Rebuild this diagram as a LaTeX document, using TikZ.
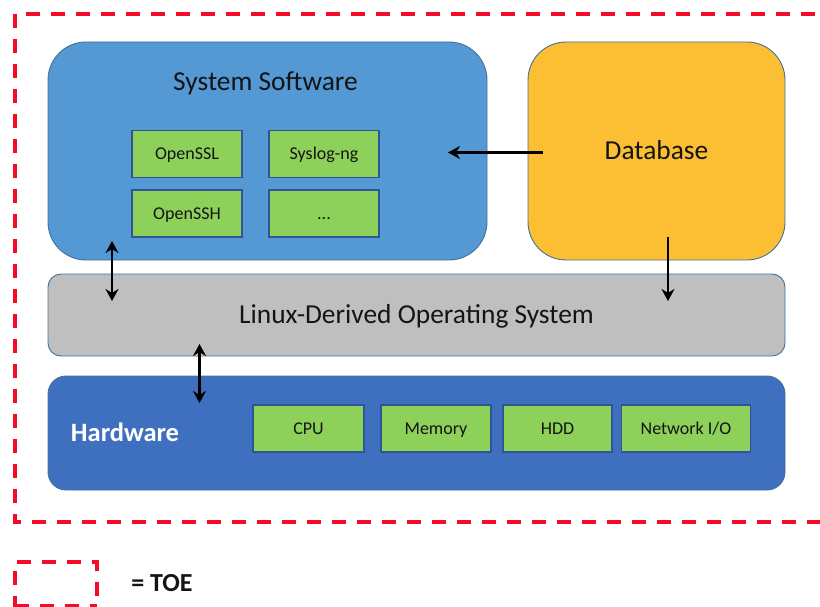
\documentclass[tikz,border=0pt]{standalone}
\usepackage{fontspec}
\setmainfont{Carlito}
\usetikzlibrary{arrows.meta}
\definecolor{swblue}{HTML}{5499D4}
\definecolor{dbgold}{HTML}{FCBF33}
\definecolor{osgrey}{HTML}{BFBFBF}
\definecolor{hwblue}{HTML}{3F70C0}
\definecolor{boxgreen}{HTML}{8ED15A}
\definecolor{edgeblue}{HTML}{41719C}
\definecolor{greenedge}{HTML}{2F5597}
\definecolor{toered}{HTML}{F50A28}
\definecolor{txt}{HTML}{141414}
\tikzset{
  bigcap/.style={text height=17.5pt, text depth=0pt},
  smallcap/.style={text height=11.6pt, text depth=0pt},
  layer/.style={draw=edgeblue, line width=0.9pt, inner sep=0pt, text=txt, bigcap},
  gbox/.style={draw=greenedge, line width=1.1pt, fill=boxgreen, inner sep=0pt,
    minimum height=47pt, text=txt, font=\fontsize{18}{20}\selectfont, smallcap},
  toe/.style={draw=toered, line width=3.8pt, dash pattern=on 14pt off 11pt},
  conn/.style={line width=2.9pt, -{Stealth[length=12pt,width=13pt]}},
  dconn/.style={line width=2.9pt, {Stealth[length=12pt,width=13pt]}-{Stealth[length=12pt,width=13pt]}},
  big/.style={font=\fontsize{27.4}{31}\selectfont, text=txt, bigcap}
}
\begin{document}
\begin{tikzpicture}[x=1pt,y=-1pt]
\useasboundingbox (0,0) rectangle (820,607);
\clip (0,0) rectangle (820,607);
% TOE boundary
\draw[toe] (840,14) -- (15,14) -- (15,522) -- (840,522);
% layers
\node[layer, fill=swblue, rounded corners=38pt, minimum width=439pt, minimum height=218pt] (sys) at (267.5,151) {};
\node[big, anchor=center] (systxt) at (265.5,82) {System Software};
\node[layer, fill=dbgold, rounded corners=38pt, minimum width=257pt, minimum height=218pt, big] (db) at (656.5,151) {Database};
\node[layer, fill=osgrey, rounded corners=13pt, minimum width=737pt, minimum height=82pt, big] (os) at (416.5,315) {Linux-Derived Operating System};
\node[layer, fill=hwblue, rounded corners=18pt, minimum width=737pt, minimum height=114pt] (hw) at (416.5,433) {};
\node[font=\fontsize{26.5}{30}\selectfont\bfseries, text=white, bigcap] (hwtxt) at (125,433) {Hardware};
% software components
\node[gbox, minimum width=110pt] (openssl) at (187,154) {OpenSSL};
\node[gbox, minimum width=110pt] (syslog) at (324,154) {Syslog-ng};
\node[gbox, minimum width=110pt] (openssh) at (187,213.5) {OpenSSH};
\node[gbox, minimum width=110pt] (more) at (324,213.5) {...};
% hardware components
\node[gbox, minimum width=111pt] (cpu) at (308.5,428.5) {CPU};
\node[gbox, minimum width=110pt] (mem) at (436,428.5) {Memory};
\node[gbox, minimum width=109pt] (hdd) at (557.5,428.5) {HDD};
\node[gbox, minimum width=129pt] (net) at (686,428.5) {Network I/O};
% connector end points
\coordinate (dbL) at (543,152.5);
\coordinate (sysR) at (448,152.5);
\coordinate (dbB) at (668,237);
\coordinate (osT) at (668,301);
\coordinate (sysB) at (112,241);
\coordinate (osL) at (112,301);
\coordinate (osB) at (199.5,344);
\coordinate (hwT) at (199.5,403);
\draw[conn] (dbL) -- (sysR);
\draw[conn] (dbB) -- (osT);
\draw[dconn] (sysB) -- (osL);
\draw[dconn] (osB) -- (hwT);
% legend
\draw[toe] (15,610) -- (15,562) -- (97,562) -- (97,610);
\draw[toe] (15,606) -- (97,606);
\node[font=\fontsize{26}{30}\selectfont\bfseries, text=txt, bigcap] (toetxt) at (162,583) {= TOE};
\end{tikzpicture}
\end{document}
